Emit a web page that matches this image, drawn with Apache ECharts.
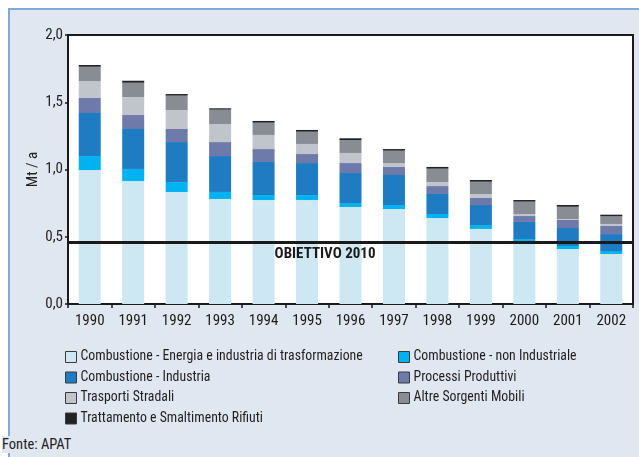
<!DOCTYPE html>
<html>
<head>
<meta charset="utf-8">
<script src="https://cdn.jsdelivr.net/npm/echarts@6/dist/echarts.min.js"></script>
<style>
  html, body { margin: 0; padding: 0; background: #ffffff; }
  #panel {
    position: absolute; left: 8px; top: 8px; width: 629px; height: 447px;
    background: #e1e7f1; border-left: 2px solid #7fa9d9; border-top: 2px solid #7fa9d9;
  }
  #chart { position: absolute; left: 0; top: 0; width: 639px; height: 457px; }
  #fonte {
    position: absolute; left: 2px; top: 436px; padding-right: 2px;
    font-family: 'Roboto Condensed', 'DejaVu Sans Condensed', sans-serif;
    font-size: 14.5px; color: #222; background: #e1e7f1; line-height: 17px;
  }
</style>
</head>
<body>
<div id="panel"></div>
<div id="chart"></div>
<div id="fonte">Fonte: APAT</div>
<script>
// Emissioni per settore, Mt / a
const years = ['1990','1991','1992','1993','1994','1995','1996','1997','1998','1999','2000','2001','2002'];

const energia     = [0.996, 0.914, 0.833, 0.781, 0.773, 0.773, 0.721, 0.706, 0.639, 0.558, 0.467, 0.409, 0.372];
const nonIndustr  = [0.104, 0.090, 0.074, 0.052, 0.037, 0.037, 0.030, 0.030, 0.030, 0.029, 0.016, 0.022, 0.022];
const industria   = [0.320, 0.297, 0.297, 0.267, 0.246, 0.238, 0.223, 0.223, 0.149, 0.149, 0.127, 0.134, 0.126];
const processi    = [0.112, 0.104, 0.097, 0.104, 0.096, 0.067, 0.074, 0.060, 0.059, 0.052, 0.044, 0.060, 0.060];
const trasporti   = [0.126, 0.134, 0.141, 0.134, 0.105, 0.075, 0.075, 0.029, 0.030, 0.030, 0.015, 0.007, 0.015];
const altre       = [0.106, 0.106, 0.107, 0.107, 0.091, 0.091, 0.096, 0.092, 0.099, 0.091, 0.092, 0.091, 0.057];
const rifiuti     = [0.013, 0.015, 0.012, 0.010, 0.013, 0.013, 0.013, 0.012, 0.013, 0.013, 0.012, 0.013, 0.012];

const obiettivo2010 = 0.46;
const yTicks = { min: 0, max: 2, interval: 0.5 };

const FONT = "'Roboto Condensed', 'DejaVu Sans Condensed', sans-serif";

const seriesDefs = [
  { name: 'Combustione - Energia e industria di trasformazione', data: energia,    color: '#cde8f3' },
  { name: 'Combustione - non Industriale',                      data: nonIndustr, color: '#00b2ef' },
  { name: 'Combustione - Industria',                            data: industria,  color: '#207cc2' },
  { name: 'Processi Produttivi',                                data: processi,   color: '#6e7aaa' },
  { name: 'Trasporti Stradali',                                 data: trasporti,  color: '#c0c4cb' },
  { name: 'Altre Sorgenti Mobili',                              data: altre,      color: '#878d93' },
  { name: 'Trattamento e Smaltimento Rifiuti',                  data: rifiuti,    color: '#222222' }
];

const series = seriesDefs.map(s => ({
  name: s.name,
  type: 'bar',
  stack: 'totale',
  barWidth: 22,
  data: s.data,
  itemStyle: { color: s.color }
}));

// target line with its caption
series.push({
  name: 'Obiettivo 2010',
  type: 'line',
  data: [],
  silent: true,
  markLine: {
    silent: true,
    symbol: ['none', 'none'],
    label: { show: false },
    lineStyle: { color: '#1a1a1a', width: 3, type: 'solid' },
    data: [{ yAxis: obiettivo2010 }]
  },
  markPoint: {
    silent: true,
    symbol: 'circle',
    symbolSize: 0,
    data: [{
      coord: ['1995', obiettivo2010],
      label: {
        show: true,
        formatter: 'OBIETTIVO 2010',
        position: 'bottom',
        distance: 5,
        offset: [18, 0],
        fontFamily: FONT,
        fontWeight: 'bold',
        fontSize: 15,
        color: '#1a1a1a'
      }
    }]
  }
});

const legendCommon = {
  orient: 'vertical',
  icon: 'rect',
  itemWidth: 11,
  itemHeight: 11,
  itemGap: 6.5,
  padding: 0,
  itemStyle: { borderColor: '#3a3a3a', borderWidth: 1 },
  textStyle: { fontFamily: FONT, fontSize: 13.8, color: '#1e1e1e', padding: [0, 0, 0, -1] }
};

const chart = echarts.init(document.getElementById('chart'), null, { renderer: 'canvas' });
chart.setOption({
  animation: false,
  backgroundColor: 'transparent',
  grid: {
    left: 68, right: 6, top: 35, bottom: 153,
    show: true, backgroundColor: '#ffffff', borderColor: '#1a1a1a', borderWidth: 2
  },
  legend: [
    Object.assign({}, legendCommon, {
      left: 65, top: 350,
      data: [seriesDefs[0].name, seriesDefs[2].name, seriesDefs[4].name, seriesDefs[6].name]
    }),
    Object.assign({}, legendCommon, {
      left: 398, top: 350,
      data: [seriesDefs[1].name, seriesDefs[3].name, seriesDefs[5].name]
    })
  ],
  xAxis: {
    type: 'category',
    data: years,
    boundaryGap: true,
    axisLine: { lineStyle: { color: '#1a1a1a', width: 2 } },
    axisTick: { show: true, interval: 0, length: 4, lineStyle: { color: '#1a1a1a', width: 1.5 } },
    axisLabel: { fontFamily: FONT, fontSize: 15, color: '#1a1a1a', margin: 10 }
  },
  yAxis: {
    type: 'value',
    min: yTicks.min, max: yTicks.max, interval: yTicks.interval,
    name: 'Mt / a',
    nameLocation: 'middle',
    nameGap: 27,
    nameMoveOverlap: false,
    nameRotate: 90,
    nameTextStyle: { fontFamily: FONT, fontSize: 15, color: '#222' },
    splitLine: { show: false },
    axisLine: { show: true, lineStyle: { color: '#1a1a1a', width: 2 } },
    axisTick: { show: true, length: 3, lineStyle: { color: '#1a1a1a', width: 1.5 } },
    axisLabel: {
      fontFamily: FONT, fontSize: 15, color: '#222', margin: 5,
      formatter: v => v.toFixed(1).replace('.', ',')
    }
  },
  series: series
});
</script>
</body>
</html>
